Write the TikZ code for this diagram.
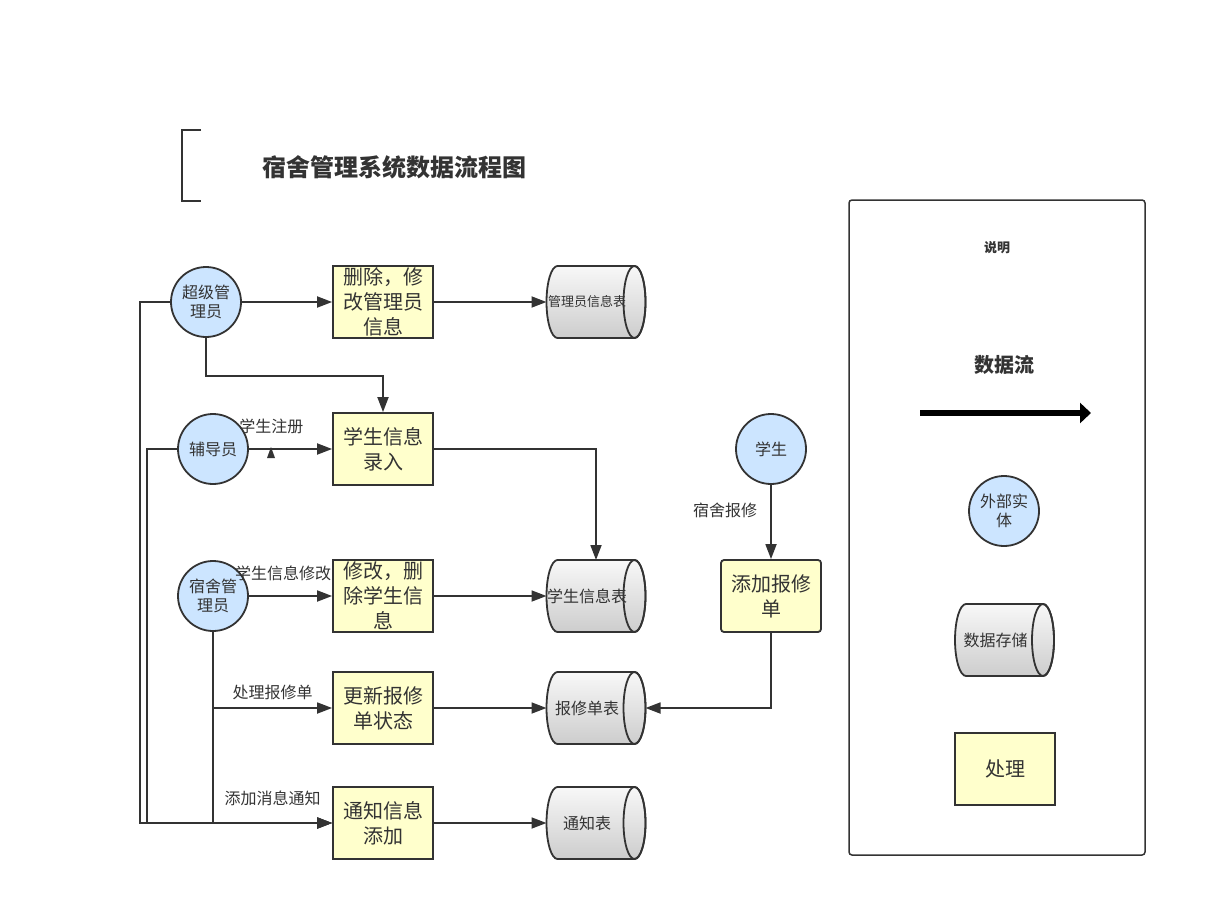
\documentclass[tikz,border=0pt]{standalone}
\usepackage{fontspec}
\setmainfont{Noto Sans CJK SC}
\usetikzlibrary{arrows.meta}
\definecolor{linegray}{HTML}{333333}
\definecolor{entityblue}{HTML}{CCE5FF}
\definecolor{procyellow}{HTML}{FFFFCC}
% text of a data store sits left of the end face
\newcommand{\storelbl}[1]{\makebox[0pt]{#1\hspace{18pt}}}
\begin{document}
\begin{tikzpicture}[x=1pt,y=-1pt,line width=1.8pt,draw=linegray,text=linegray]

\tikzset{entity/.style={circle, draw=linegray, fill=entityblue, minimum size=70pt, inner sep=0pt, align=center, font=\fontsize{16}{19}\selectfont},
proc/.style={rectangle, draw=linegray, fill=procyellow, minimum width=100pt, minimum height=72pt, inner sep=0pt, align=center, font=\fontsize{20}{25}\selectfont},
%data store: a lying cylinder, 99 x 72
store/.style={rectangle, minimum width=102pt, minimum height=75pt, inner sep=0pt, outer sep=-1.5pt, font=\fontsize{16}{19}\selectfont,
 path picture={
 \shade[top color=gray!5, bottom color=gray!40, draw=linegray, line width=1.8pt]
 ([shift={(-38.5,-36)}]path picture bounding box.center) -- ++(77,0)
 arc[start angle=-90, end angle=90, x radius=11, y radius=36] -- ++(-77,0)
 arc[start angle=90, end angle=270, x radius=11, y radius=36] -- cycle;
 \draw[linegray, line width=1.8pt] ([xshift=38.5pt]path picture bounding box.center) ellipse[x radius=11, y radius=36];
 }},
%data flow arrows
flow/.style={draw=linegray, -{Triangle[length=15pt,width=11pt]}},
lbl/.style={inner sep=0pt, font=\fontsize{16}{19}\selectfont, text=linegray}}

\useasboundingbox (0,0) rectangle (1206,920);

\draw (201,130) -- (182,130) -- (182,201) -- (201,201);
\node[font=\bfseries\fontsize{24}{28}\selectfont] (title) at (394,167) {宿舍管理系统数据流程图};

\node[entity] (cjgl) at (206,302) {超级管\\理员};
\node[entity] (fdy) at (213,449) {辅导员};
\node[entity] (ssgl) at (213,596) {宿舍管\\理员};
\node[entity] (xs) at (771,449) {学生};

\node[proc] (scgl) at (383,302) {删除，修\\改管理员\\信息};
\node[proc] (xslr) at (383,449) {学生信息\\录入};
\node[proc] (xgxs) at (383,596) {修改，删\\除学生信\\息};
\node[proc] (gxbx) at (383,708) {更新报修\\单状态};
\node[proc] (tzxx) at (383,823) {通知信息\\添加};
\node[proc, rounded corners=3pt] (tjbx) at (771,596) {添加报修\\单};

\node[store, font=\fontsize{13}{16}\selectfont] (glyb) at (596,302) {\storelbl{管理员信息表}};
\node[store] (xsb) at (596,596) {\storelbl{学生信息表}};
\node[store] (bxb) at (596,708) {\storelbl{报修单表}};
\node[store] (tzb) at (596,823) {\storelbl{通知表}};

\draw[flow] (cjgl) -- (scgl);
\draw[flow] (scgl) -- (glyb);
\draw[flow] (cjgl.south) -- ++(0,38) -| (xslr.north);
\draw[flow] (cjgl.west) -- ++(-30,0) |- (tzxx.west);
\draw[flow] (fdy) -- node[lbl, pos=0.27, above=14pt]{学生注册} (xslr);
\fill[linegray] (267,458) -- (275,458) -- (271,447) -- cycle;
\draw[flow] (fdy.west) -- ++(-30,0) |- (tzxx.west);
\draw[flow] (xslr.east) -| (xsb.north);
\draw[flow] (ssgl) -- node[lbl, pos=0.41, above=14pt]{学生信息修改} (xgxs);
\draw[flow] (xgxs) -- (xsb);
\draw[flow] (ssgl.south) |- node[lbl, pos=0.75, above=7pt]{处理报修单} (gxbx.west);
\draw[flow] (ssgl.south) |- node[lbl, pos=0.75, above=16pt]{添加消息通知} (tzxx.west);
\draw[flow] (gxbx) -- (bxb);
\draw[flow] (tzxx) -- (tzb);
\draw[flow] (xs) -- node[lbl, pos=0.35, left=13pt]{宿舍报修} (tjbx);
\draw[flow] (tjbx.south) |- (bxb.east);

%legend
\draw[line width=1.5pt, rounded corners=3pt] (849,200) rectangle (1145,855);
\node[font=\bfseries\fontsize{13}{15}\selectfont] (sm) at (997,248) {说明};
\node[font=\bfseries\fontsize{20}{24}\selectfont] (sjl) at (1004,365) {数据流};
\coordinate (lga) at (920,413);
\coordinate (lgb) at (1091,413);
\draw[draw=black, line width=6pt, -{Triangle[length=11pt,width=20pt]}] (lga) -- (lgb);
\node[entity] (wbst) at (1004,511) {外部实\\体};
\node[store] (sjcc) at (1004.5,640) {\storelbl{数据存储}};
\node[proc] (cl) at (1005,769) {处理};

\end{tikzpicture}
\end{document}
